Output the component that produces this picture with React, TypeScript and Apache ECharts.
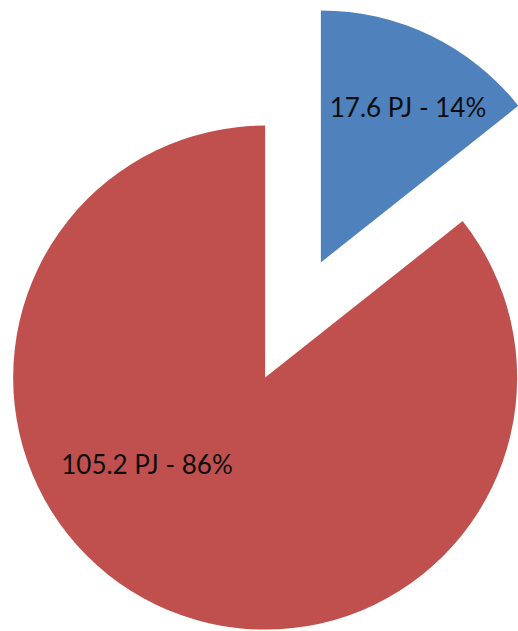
import React, { useEffect, useRef } from "react";
import * as echarts from "echarts";

const categories = ["Blue share", "Red share"];
const valuesPJ = [17.6, 105.2];
const percents = [14, 86];
const colors = ["#4F81BD", "#C0504D"];

const labelShift = [
  [31, -39],
  [-62, -30],
];

export default function App() {
  const ref = useRef<HTMLDivElement>(null);
  useEffect(() => {
    if (!ref.current) return;
    const chart = echarts.init(ref.current, undefined, { renderer: "svg" });
    chart.setOption({
      animation: false,
      backgroundColor: "#ffffff",
      series: [
        {
          type: "pie",
          center: [293, 320],
          radius: [0, 252],
          startAngle: 90,
          clockwise: true,
          selectedMode: "multiple",
          selectedOffset: 64,
          emphasis: { disabled: true },
          silent: true,
          data: categories.map((name, i) => ({
            name,
            value: valuesPJ[i],
            selected: true,
            itemStyle: { color: colors[i] },
            label: {
              formatter: `${valuesPJ[i].toFixed(1)} PJ - ${percents[i]}%`,
            },
          })),
          label: {
            show: true,
            position: "inside",
            color: "#0d0d0d",
            fontFamily: "Lato",
            fontSize: 26,
          },
          labelLine: { show: false },
          labelLayout: (p: any) => ({
            dx: labelShift[p.dataIndex][0],
            dy: labelShift[p.dataIndex][1],
          }),
        },
      ],
    });
    return () => chart.dispose();
  }, []);
  return (
    <div
      ref={ref}
      style={{ position: "absolute", left: 0, top: 0, width: 518, height: 631 }}
    />
  );
}
